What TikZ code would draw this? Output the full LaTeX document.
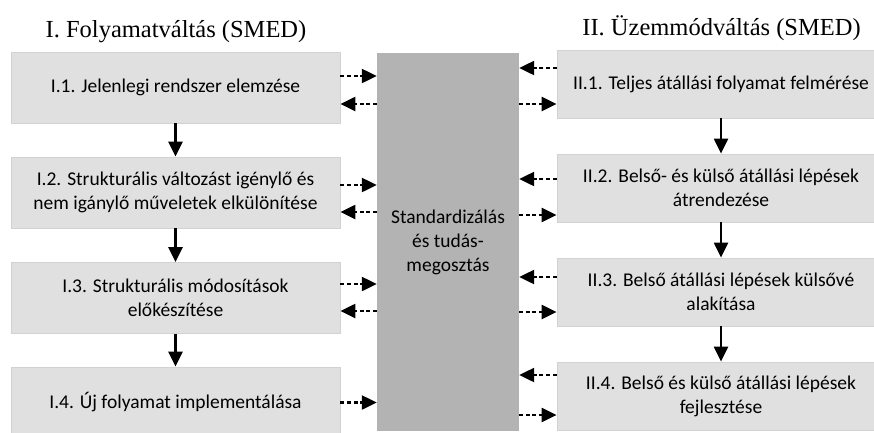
\documentclass[tikz,border=0pt]{standalone}
\usepackage{fontspec}
\setmainfont{Carlito}
\newfontfamily\headfont{Liberation Serif}
\usepackage{tikz}
\usetikzlibrary{arrows.meta,calc}
\definecolor{stepgray}{HTML}{E0E0E0}
\definecolor{stepline}{HTML}{D2D2D2}
\definecolor{stdgray}{HTML}{B3B3B3}
\tikzset{
  sbox/.style={rectangle,fill=stepgray,draw=stepline,line width=0.8pt,align=center,inner sep=0pt,font=\fontsize{19.5}{24}\selectfont},
  stdbox/.style={rectangle,fill=stdgray,draw=none,align=center,inner sep=0pt,minimum width=142pt,minimum height=378pt,font=\fontsize{19.5}{24}\selectfont},
  flow/.style={-{Triangle[length=15pt,width=14pt]},line width=2.3pt},
  share/.style={-{Triangle[length=15pt,width=14pt]},line width=2.3pt,dash pattern=on 4pt off 2.6pt},
  htitle/.style={font=\headfont\fontsize{24.5}{28}\selectfont}
}

\begin{document}
\begin{tikzpicture}[x=1pt,y=1pt]
\clip (0,0) rectangle (874,-432);
% titles
\node[htitle] (t1) at (176,-32) {I. Folyamatváltás (SMED)};
\node[htitle] (t2) at (721.5,-28) {II. Üzemmódváltás (SMED)};
% standardization block
\node[stdbox] (std) at (448,-242) {Standardizálás\\és tudás-\\megosztás};
% left column
\foreach \i/\y/\txt in {1/87.5/{I.1. Jelenlegi rendszer elemzése},
  2/192.5/{I.2. Strukturális változást igénylő és\\nem igánylő műveletek elkülönítése},
  3/298/{I.3. Strukturális módosítások\\előkészítése},
  4/402.5/{I.4. Új folyamat implementálása}}{
  \node[sbox,minimum width=329pt,minimum height=71pt] (l\i) at (175.5,-\y) {\txt};
}
% right column
\foreach \i/\y/\txt in {1/84/{II.1. Teljes átállási folyamat felmérése},
  2/188/{II.2. Belső- és külső átállási lépések\\átrendezése},
  3/292/{II.3. Belső átállási lépések külsővé\\alakítása},
  4/396/{II.4. Belső és külső átállási lépések\\fejlesztése}}{
  \node[sbox,minimum width=328pt,minimum height=68pt] (r\i) at (721,-\y) {\txt};
}
% sequence
\foreach \a/\b in {1/2,2/3,3/4}{
  \draw[flow] (l\a.south) -- (l\b.north);
  \draw[flow] (r\a.south) -- (r\b.north);
}
% exchange with the standardization block
\foreach \i/\up/\dn in {1/11.5/-16.5,2/7.5/-19.5,3/14/-13}{
  \draw[share] ([yshift=\up pt]l\i.east) -- ([yshift=\up pt]l\i.east -| std.west);
  \draw[share] ([yshift=\dn pt]l\i.east -| std.west) -- ([yshift=\dn pt]l\i.east);
}
\draw[share] (l4.east) -- (l4.east -| std.west);
\foreach \i/\up/\dn in {1/16/-20,2/9/-27,3/15/-20,4/21/-19}{
  \draw[share] ([yshift=\up pt]r\i.west) -- ([yshift=\up pt]r\i.west -| std.east);
  \draw[share] ([yshift=\dn pt]r\i.west -| std.east) -- ([yshift=\dn pt]r\i.west);
}
\end{tikzpicture}
\end{document}
